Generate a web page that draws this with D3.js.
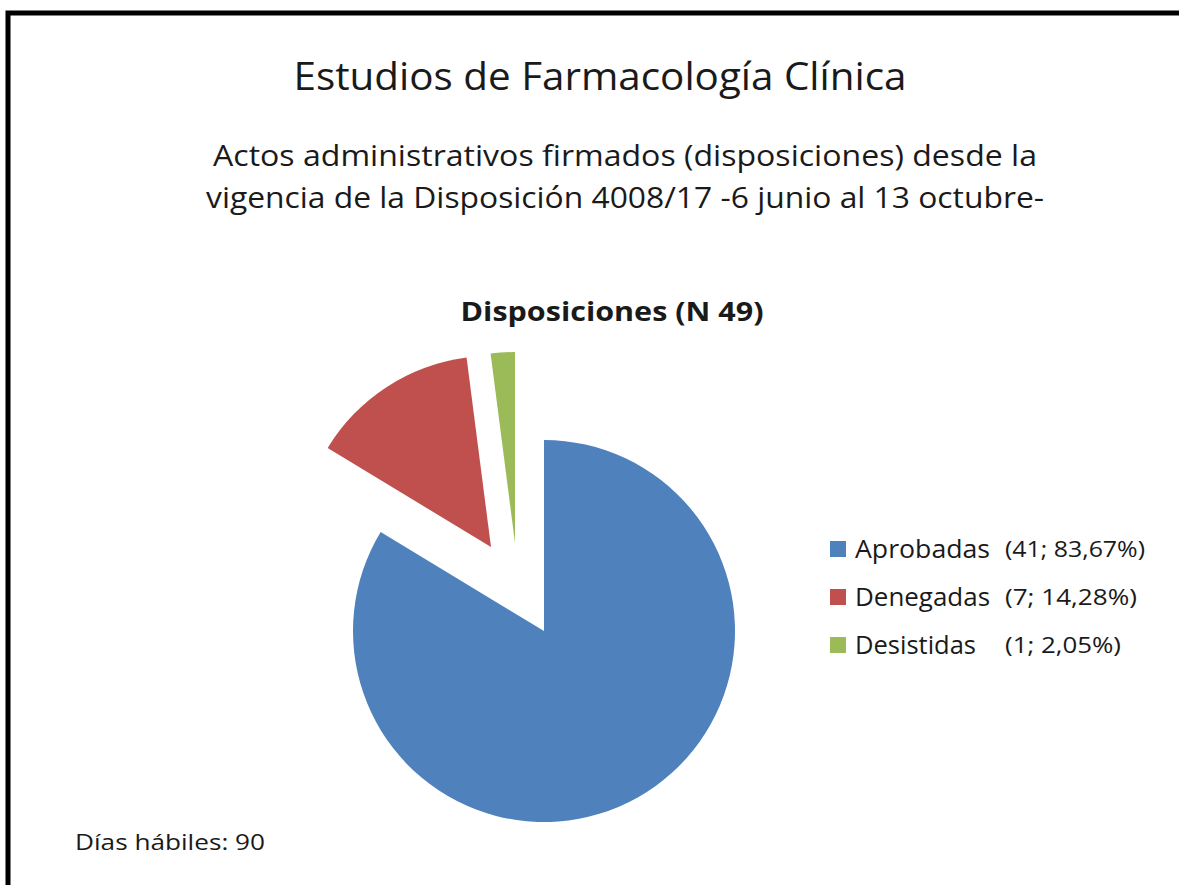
<!DOCTYPE html>
<html>
<head>
<meta charset="utf-8">
<script src="https://cdn.jsdelivr.net/npm/d3@7"></script>
<style>
  body { margin: 0; background: #fff; }
  text { font-family: "Open Sans", Lato, sans-serif; fill: #1a1a1a; }
</style>
</head>
<body>
<svg id="chart" width="1179" height="885"></svg>
<script>
var categories = ["Aprobadas", "Denegadas", "Desistidas"];
var values = [41, 7, 1];
var percentLabels = ["(41; 83,67%)", "(7; 14,28%)", "(1; 2,05%)"];
var colors = ["#4f81bd", "#c0504d", "#9bbb59"];

var title = "Estudios de Farmacología Clínica";
var subtitle = ["Actos administrativos firmados (disposiciones) desde la",
                "vigencia de la Disposición 4008/17 -6 junio al 13 octubre-"];
var pieTitle = "Disposiciones (N 49)";
var footnote = "Días hábiles: 90";

var svg = d3.select("#chart");

// squeeze / stretch a label to the width it has in the picture
var fit = function(sel, w) {
  sel.attr("textLength", w).attr("lengthAdjust", "spacingAndGlyphs");
};

// frame (only top and left edges show in the picture)
svg.append("path")
  .attr("d", "M8,885 L8,13 L1179,13")
  .attr("fill", "none")
  .attr("stroke", "#000")
  .attr("stroke-width", 5);

svg.append("text")
  .attr("x", 600).attr("y", 90)
  .attr("text-anchor", "middle")
  .style("font-size", "38px")
  .text(title)
  .call(fit, 613);

var subWidths = [824, 838];
svg.selectAll(".sub")
  .data(subtitle)
  .enter().append("text")
  .attr("class", "sub")
  .attr("x", 625)
  .attr("y", function(d, i) { return 166 + i * 42; })
  .attr("text-anchor", "middle")
  .style("font-size", "30px")
  .attr("textLength", function(d, i) { return subWidths[i]; })
  .attr("lengthAdjust", "spacingAndGlyphs")
  .text(function(d) { return d; });

svg.append("text")
  .attr("x", 612).attr("y", 321)
  .attr("text-anchor", "middle")
  .style("font-size", "27px")
  .style("font-weight", "bold")
  .text(pieTitle)
  .call(fit, 303);

svg.append("text")
  .attr("x", 75).attr("y", 850)
  .style("font-size", "22px")
  .text(footnote)
  .call(fit, 190);

// pie
var cx = 544, cy = 631, radius = 191;
// explode offsets per slice, as [dx, dy]
var explode = [[0, 0], [-53, -84], [-29, -88]];

var pie = d3.pie().sort(null).value(function(d) { return d; });
var arc = d3.arc().innerRadius(0).outerRadius(radius);

var g = svg.append("g").attr("transform", "translate(" + cx + "," + cy + ")");

g.selectAll("path.slice")
  .data(pie(values))
  .enter().append("path")
  .attr("class", "slice")
  .attr("d", arc)
  .attr("fill", function(d, i) { return colors[i]; })
  .attr("transform", function(d, i) {
    return "translate(" + explode[i][0] + "," + explode[i][1] + ")";
  });

// legend
var nameWidths = [135, 135, 121];
var valueWidths = [140, 132, 116];
var legend = svg.append("g").attr("transform", "translate(830,549)");
var rows = legend.selectAll(".row")
  .data(categories)
  .enter().append("g")
  .attr("class", "row")
  .attr("transform", function(d, i) { return "translate(0," + (i * 48) + ")"; });

rows.append("rect")
  .attr("x", 0).attr("y", -8)
  .attr("width", 16).attr("height", 16)
  .attr("fill", function(d, i) { return colors[i]; });

rows.append("text")
  .attr("x", 25).attr("y", 9)
  .style("font-size", "26px")
  .attr("textLength", function(d, i) { return nameWidths[i]; })
  .attr("lengthAdjust", "spacingAndGlyphs")
  .text(function(d) { return d; });

rows.append("text")
  .attr("x", 175).attr("y", 8)
  .style("font-size", "21px")
  .attr("textLength", function(d, i) { return valueWidths[i]; })
  .attr("lengthAdjust", "spacingAndGlyphs")
  .text(function(d, i) { return percentLabels[i]; });
</script>
</body>
</html>
